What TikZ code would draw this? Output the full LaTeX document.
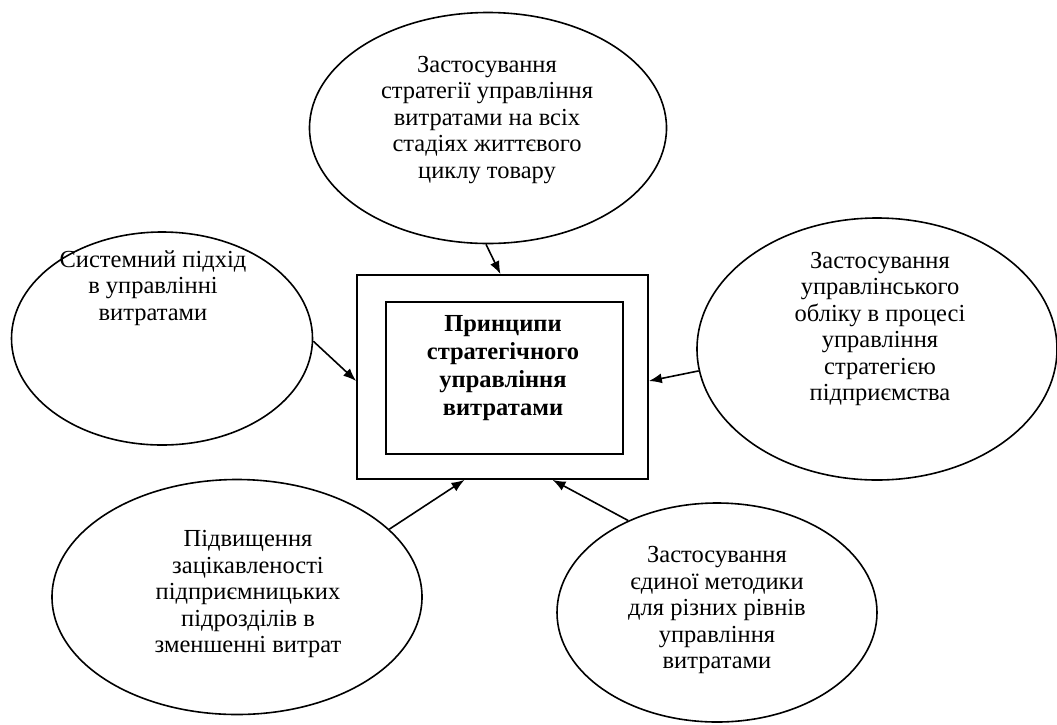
\documentclass[tikz,border=0pt]{standalone}
\usepackage{fontspec}
\setmainfont{Liberation Serif}
\usetikzlibrary{shapes.geometric,arrows.meta}
\tikzset{
  oval/.style={draw, ellipse, line width=1.6pt, inner sep=0pt},
  txt/.style={align=center, font=\fontsize{24.5}{26.5}\selectfont, inner sep=0pt},
  box/.style={draw, line width=1.7pt, inner sep=0pt},
  arr/.style={line width=1.6pt, -{Latex[length=13pt,width=10pt]}}
}
\begin{document}
\begin{tikzpicture}[x=1pt,y=-1pt]
\useasboundingbox (0,0) rectangle (1057,724);
% central boxes
\node[box, minimum width=291pt, minimum height=204pt] (outer) at (502.5,377) {};
\node[box, minimum width=237pt, minimum height=152pt] (inner) at (504.5,378) {};
\node[txt, font=\fontsize{24.5}{28}\selectfont\bfseries] (title) at (503,368)
  {Принципи\\стратегічного\\управління\\витратами};
% ellipses
\node[oval, minimum width=357pt, minimum height=231pt] (top) at (488,128) {};
\node[txt] (toptext) at (487,120) {Застосування\\стратегії управління\\витратами на всіх\\стадіях життєвого\\циклу товару};
\node[oval, minimum width=301pt, minimum height=213pt] (left) at (162,338.5) {};
\node[txt] (lefttext) at (153,288) {Системний підхід\\в управлінні\\витратами};
\node[oval, minimum width=360pt, minimum height=262pt] (right) at (877,349) {};
\node[txt] (righttext) at (880,329) {Застосування\\управлінського\\обліку в процесі\\управління\\стратегією\\підприємства};
\node[oval, minimum width=370pt, minimum height=235pt] (bl) at (237,597) {};
\node[txt] (bltext) at (248,594) {Підвищення\\зацікавленості\\підприємницьких\\підрозділів в\\зменшенні витрат};
\node[oval, minimum width=320pt, minimum height=219pt] (br) at (717,612.5) {};
\node[txt] (brtext) at (717,610) {Застосування\\єдиної методики\\для різних рівнів\\управління\\витратами};
% arrow targets on outer box
\coordinate (tTop) at ([xshift=-2pt]outer.north);
\coordinate (tLeft) at ([yshift=-4pt]outer.west);
\coordinate (tRight) at ([yshift=-4pt]outer.east);
\coordinate (tBL) at ([xshift=-38pt]outer.south);
\coordinate (tBR) at ([xshift=50pt]outer.south);
% arrows
\draw[arr] (top.-91.5) -- (tTop);
\draw[arr] (left.-1) -- (tLeft);
\draw[arr] (right.187) -- (tRight);
\draw[arr] (bl.24) -- (tBL);
\draw[arr] (br.134) -- (tBR);
\end{tikzpicture}
\end{document}
